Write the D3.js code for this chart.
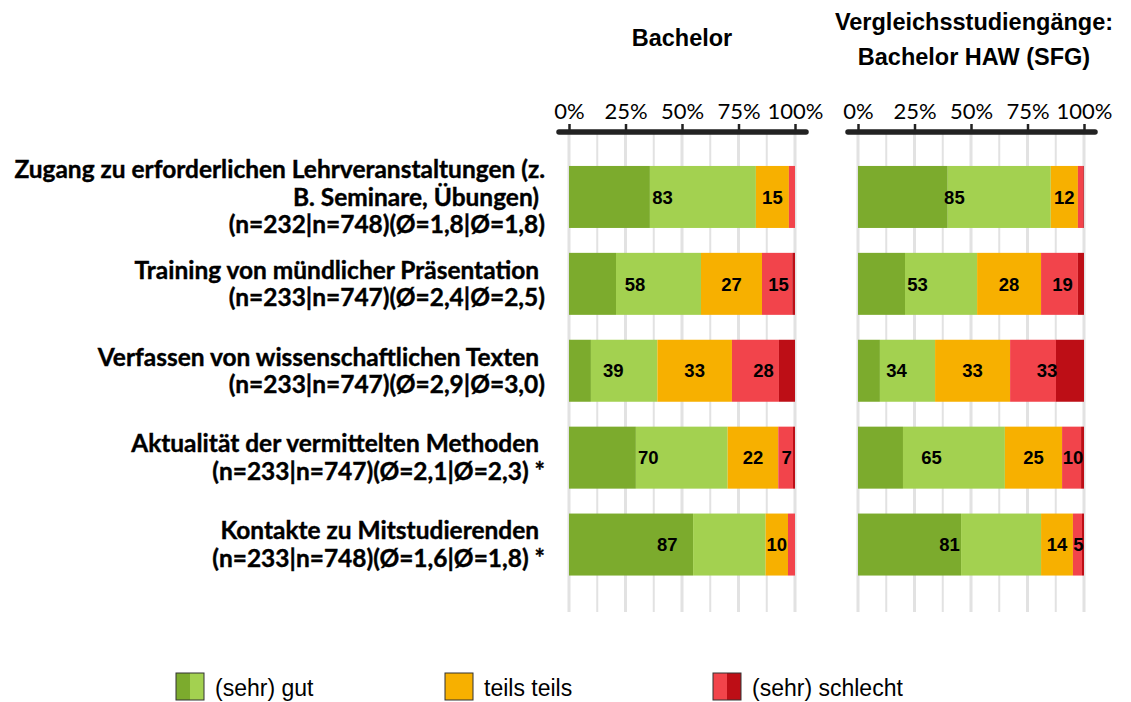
<!DOCTYPE html>
<html>
<head>
<meta charset="utf-8">
<script src="https://cdn.jsdelivr.net/npm/d3@7"></script>
<style>
  html, body { margin: 0; padding: 0; background: #fff; }
  svg { display: block; }
  .cat { white-space: pre; }
</style>
</head>
<body>
<svg id="chart" width="1131" height="702"></svg>
<script>
// ---------------- DATA ----------------
const categories = [
  ["Zugang zu erforderlichen Lehrveranstaltungen (z.", "B. Seminare, Übungen) ", "(n=232|n=748)(Ø=1,8|Ø=1,8)"],
  ["Training von mündlicher Präsentation ", "(n=233|n=747)(Ø=2,4|Ø=2,5)"],
  ["Verfassen von wissenschaftlichen Texten ", "(n=233|n=747)(Ø=2,9|Ø=3,0)"],
  ["Aktualität der vermittelten Methoden ", "(n=233|n=747)(Ø=2,1|Ø=2,3) *"],
  ["Kontakte zu Mitstudierenden ", "(n=233|n=748)(Ø=1,6|Ø=1,8) *"]
];
const panelTitles = [["Bachelor"], ["Vergleichsstudiengänge:", "Bachelor HAW (SFG)"]];
const seriesKeys = ["sehrGut", "gut", "teils", "schlecht", "sehrSchlecht"];
const legendLabels = ["(sehr) gut", "teils teils", "(sehr) schlecht"];
const tickValues = [0, 25, 50, 75, 100];
const tickLabels = ["0%", "25%", "50%", "75%", "100%"];

// Bachelor (percent)
const bachelorSehrGut      = [35.8, 20.8,  9.7, 29.6, 54.9];
const bachelorGut          = [46.9, 37.6, 29.4, 40.6, 32.1];
const bachelorTeils        = [14.6, 27.0, 33.0, 22.4,  9.9];
const bachelorSchlecht     = [ 2.7, 13.4, 20.8,  6.5,  3.1];
const bachelorSehrSchlecht = [ 0.0,  1.2,  7.1,  0.9,  0.0];

// Vergleichsstudiengänge: Bachelor HAW (SFG) (percent)
const sfgSehrGut      = [39.7, 20.8,  9.7, 19.9, 45.6];
const sfgGut          = [45.6, 31.9, 24.4, 45.1, 35.4];
const sfgTeils        = [12.0, 28.3, 33.2, 25.3, 14.1];
const sfgSchlecht     = [ 2.4, 16.3, 20.3,  8.4,  4.0];
const sfgSehrSchlecht = [ 0.3,  2.7, 12.4,  1.3,  0.9];

// ---------------- STYLE ----------------
const colors = {
  sehrGut: "#7CAB2D", gut: "#A3D150", teils: "#F7B000",
  schlecht: "#F2444B", sehrSchlecht: "#BD0E16"
};
const labelFont = "Lato, 'Open Sans', sans-serif";
const arial = "'Liberation Sans', Arial, sans-serif";

const svg = d3.select("#chart");

function buildRows(a, b, c, d, e) {
  return categories.map((cat, i) => ({
    i, sehrGut: a[i], gut: b[i], teils: c[i], schlecht: d[i], sehrSchlecht: e[i]
  }));
}
const panels = [
  { rows: buildRows(bachelorSehrGut, bachelorGut, bachelorTeils, bachelorSchlecht, bachelorSehrSchlecht),
    range: [569, 795], title: panelTitles[0] },
  { rows: buildRows(sfgSehrGut, sfgGut, sfgTeils, sfgSchlecht, sfgSehrSchlecht),
    range: [858, 1084], title: panelTitles[1] }
];

const y = d3.scaleBand()
  .domain(categories.map((c, i) => i))
  .range([153.5, 588])
  .paddingInner(0.2865)
  .paddingOuter(0.1433);

const gridTop = 132, gridBottom = 612, axisY = 132;
const stack = d3.stack().keys(seriesKeys);

panels.forEach((p, pi) => {
  const x = d3.scaleLinear().domain([0, 100]).range(p.range);
  const g = svg.append("g");

  // gridlines
  const gridVals = d3.range(0, 100.1, 12.5);
  g.selectAll("line.grid").data(gridVals).join("line")
    .attr("x1", d => x(d)).attr("x2", d => x(d))
    .attr("y1", gridTop).attr("y2", gridBottom)
    .attr("stroke", "#E2E2E2")
    .attr("stroke-width", d => d % 25 === 0 ? 3 : 2);

  // stacked bars
  const series = stack(p.rows);
  g.selectAll("g.series").data(series).join("g")
    .attr("fill", s => colors[s.key])
    .selectAll("rect").data(s => s).join("rect")
    .attr("x", d => x(d[0]))
    .attr("width", d => Math.max(0, x(d[1]) - x(d[0])))
    .attr("y", (d, j) => y(j))
    .attr("height", y.bandwidth());

  // value labels: combined good, neutral, combined bad
  const labels = [];
  p.rows.forEach(r => {
    const good = r.sehrGut + r.gut;
    const bad = r.schlecht + r.sehrSchlecht;
    labels.push({ i: r.i, v: good, x0: 0, x1: good });
    labels.push({ i: r.i, v: r.teils, x0: good, x1: good + r.teils });
    labels.push({ i: r.i, v: bad, x0: good + r.teils, x1: good + r.teils + bad });
  });
  g.selectAll("text.val").data(labels.filter(l => Math.round(l.v) >= 5)).join("text")
    .attr("x", d => (x(d.x0) + x(d.x1)) / 2)
    .attr("y", d => y(d.i) + y.bandwidth() / 2)
    .attr("dy", "0.36em")
    .attr("text-anchor", "middle")
    .attr("font-family", arial)
    .attr("font-weight", "bold")
    .attr("font-size", 18.5)
    .attr("fill", "#000")
    .text(d => Math.round(d.v));

  // axis
  const axis = d3.axisTop(x).tickValues(tickValues)
    .tickFormat((d, k) => tickLabels[k]).tickSize(8).tickPadding(5);
  const ag = g.append("g").attr("transform", `translate(0,${axisY})`).call(axis);
  ag.select(".domain").remove();
  ag.selectAll(".tick line").attr("stroke", "#222").attr("stroke-width", 2.5);
  ag.selectAll(".tick text")
    .attr("font-family", labelFont).attr("font-size", 22).attr("fill", "#000");
  g.append("line")
    .attr("x1", x(0) - 10).attr("x2", x(100) + 11)
    .attr("y1", axisY).attr("y2", axisY)
    .attr("stroke", "#222").attr("stroke-width", 5.5)
    .attr("stroke-linecap", "round");

  // panel title
  const cx = (p.range[0] + p.range[1]) / 2;
  const titleYs = p.title.length === 1 ? [46] : [30, 65];
  g.selectAll("text.title").data(p.title).join("text")
    .attr("x", cx + (pi === 0 ? 0 : 3))
    .attr("y", (d, k) => titleYs[k])
    .attr("text-anchor", "middle")
    .attr("font-family", arial).attr("font-weight", "bold").attr("font-size", 23.5)
    .attr("fill", "#000")
    .text(d => d);
});

// category labels
const catG = svg.append("g");
const lineH = 27.5;
let catSize = 22;
const catTexts = catG.selectAll("text.cat").data(categories).join("text")
  .attr("class", "cat")
  .attr("text-anchor", "end")
  .attr("font-family", labelFont).attr("font-weight", "bold")
  .attr("font-size", catSize).attr("fill", "#000")
  .attr("stroke", "#000").attr("stroke-width", 0.4);
catTexts.each(function(lines, i) {
  const t = d3.select(this);
  const cy = y(i) + y.bandwidth() / 2;
  const first = cy - (lines.length - 1) * lineH / 2;
  t.selectAll("tspan").data(lines).join("tspan")
    .attr("x", 545)
    .attr("y", (d, k) => first + k * lineH)
    .attr("dy", "0.35em")
    .text(d => d);
});
// fit font size to reference width of the longest line
const firstSpan = catG.select("tspan").node();
const w = firstSpan.getComputedTextLength();
catSize = catSize * 531 / w;
catTexts.attr("font-size", catSize);

// legend
const legendItems = [
  { label: legendLabels[0], cols: [colors.sehrGut, colors.gut], x: 176 },
  { label: legendLabels[1], cols: [colors.teils, colors.teils], x: 445 },
  { label: legendLabels[2], cols: [colors.schlecht, colors.sehrSchlecht], x: 713 }
];
const lg = svg.append("g").selectAll("g").data(legendItems).join("g")
  .attr("transform", d => `translate(${d.x},673)`);
lg.append("rect").attr("x", 0).attr("y", 0).attr("width", 14).attr("height", 27)
  .attr("fill", d => d.cols[0]);
lg.append("rect").attr("x", 14).attr("y", 0).attr("width", 14).attr("height", 27)
  .attr("fill", d => d.cols[1]);
lg.append("rect").attr("x", 0).attr("y", 0).attr("width", 28).attr("height", 27)
  .attr("fill", "none").attr("stroke", "#333").attr("stroke-width", 1);
lg.append("text").attr("x", 39).attr("y", 15).attr("dy", "0.36em")
  .attr("font-family", arial).attr("font-size", 23).attr("fill", "#000")
  .text(d => d.label);
</script>
</body>
</html>
